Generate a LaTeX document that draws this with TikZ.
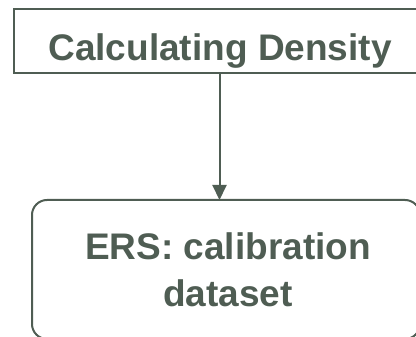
\documentclass[tikz,border=0pt]{standalone}
\usepackage{fontspec}
\setmainfont{Liberation Sans}
\usetikzlibrary{arrows.meta}
\definecolor{ink}{RGB}{79,93,83}
\tikzset{
  boxline/.style={draw=ink, line width=2pt},
  lbl/.style={text=ink, font=\fontsize{37}{44}\selectfont\bfseries, inner sep=0pt, anchor=base},
}
\begin{document}
\begin{tikzpicture}[x=1pt,y=-1pt]
\useasboundingbox (0,0) rectangle (416,337);
\clip (0,0) rectangle (416,337);
\node[boxline, rectangle, outer sep=0pt, minimum width=411pt, minimum height=64pt, inner sep=0pt] (top) at (219.5,41) {};
\node[boxline, rectangle, outer sep=0pt, rounded corners=15pt, minimum width=388pt, minimum height=139pt, inner sep=0pt] (bot) at (226,269.5) {};
\node[lbl] (t1) at (220,61) {Calculating Density};
\node[lbl] (t2) at (228,260) {ERS: calibration};
\node[lbl] (t3) at (228,307) {dataset};
\draw[ink, line width=2pt, -{Triangle[width=14pt,length=15pt]}] (top.south) -- (top.south |- bot.north);
\end{tikzpicture}
\end{document}
